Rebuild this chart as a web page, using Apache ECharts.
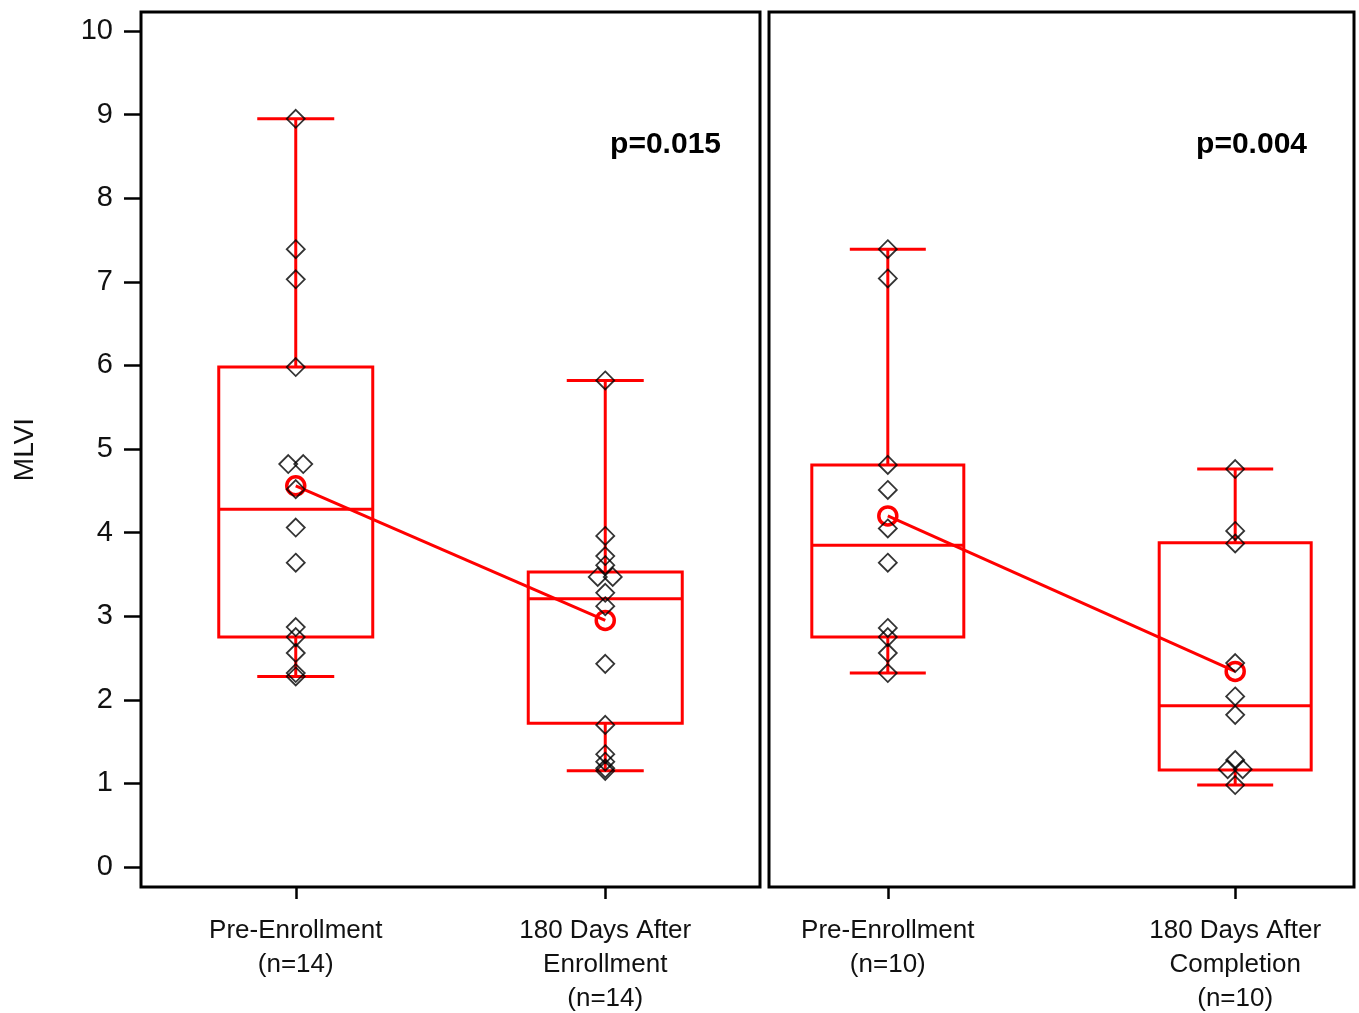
<!DOCTYPE html>
<html>
<head>
<meta charset="utf-8">
<script src="https://cdn.jsdelivr.net/npm/echarts@6/dist/echarts.min.js"></script>
<style>
  html, body { margin: 0; padding: 0; background: #fff; }
  #main { width: 1359px; height: 1013px; }
</style>
</head>
<body>
<div id="main"></div>
<script>
// tick labels
const yTicks = [0, 1, 2, 3, 4, 5, 6, 7, 8, 9, 10];
const leftLabels = ['Pre-Enrollment\n(n=14)', '180 Days After\nEnrollment\n(n=14)'];
const rightLabels = ['Pre-Enrollment\n(n=10)', '180 Days After\nCompletion\n(n=10)'];
const pValues = ['p=0.015', 'p=0.004'];

// individual MLVI values
const preEnrollA = [8.95, 7.39, 7.03, 5.98, 4.82, 4.82, 4.52, 4.06, 3.64, 2.87, 2.75, 2.56, 2.32, 2.28];
const after180Enroll = [5.82, 3.96, 3.72, 3.61, 3.47, 3.47, 3.28, 3.12, 2.43, 1.70, 1.35, 1.26, 1.18, 1.15];
const preEnrollB = [7.39, 7.04, 4.81, 4.51, 4.05, 3.64, 2.86, 2.75, 2.56, 2.32];
const after180Completion = [4.76, 4.02, 3.87, 2.44, 2.04, 1.82, 1.28, 1.17, 1.17, 0.98];

// box stats: [min, q1, median, q3, max]
const boxLeft = [[2.28, 2.75, 4.28, 5.98, 8.95], [1.15, 1.72, 3.21, 3.53, 5.82]];
const boxRight = [[2.32, 2.75, 3.85, 4.81, 7.39], [0.98, 1.16, 1.93, 3.88, 4.76]];

// means
const meanLeft = [4.56, 2.95];
const meanRight = [4.20, 2.34];

const RED = '#ff0000';
const FONT = '"Liberation Sans", Arial, sans-serif';

// side-by-side offset for equal values
function scatterData(idx, values) {
  const counts = {};
  values.forEach(v => { counts[v] = (counts[v] || 0) + 1; });
  const seen = {};
  return values.map(v => {
    const n = counts[v];
    const k = seen[v] = (seen[v] || 0) + 1;
    const off = n > 1 ? (k - 1 - (n - 1) / 2) * 15 : 0;
    return { value: [idx, v], symbolOffset: [off, 0] };
  });
}

function boxRender(halfW) {
  return function (params, api) {
    const x = api.value(0);
    const cx = api.coord([x, 0])[0];
    const y = v => api.coord([x, api.value(v)])[1];
    const yMin = y(1), yQ1 = y(2), yMed = y(3), yQ3 = y(4), yMax = y(5);
    const cap = halfW / 2;
    const st = { stroke: RED, lineWidth: 3, fill: null };
    return {
      type: 'group',
      children: [
        { type: 'rect', shape: { x: cx - halfW, y: yQ3, width: halfW * 2, height: yQ1 - yQ3 }, style: st },
        { type: 'line', shape: { x1: cx - halfW, y1: yMed, x2: cx + halfW, y2: yMed }, style: st },
        { type: 'line', shape: { x1: cx, y1: yQ3, x2: cx, y2: yMax }, style: st },
        { type: 'line', shape: { x1: cx, y1: yQ1, x2: cx, y2: yMin }, style: st },
        { type: 'line', shape: { x1: cx - cap, y1: yMax, x2: cx + cap, y2: yMax }, style: st },
        { type: 'line', shape: { x1: cx - cap, y1: yMin, x2: cx + cap, y2: yMin }, style: st }
      ]
    };
  };
}

function xAxis(gridIndex, pad, labels) {
  return {
    type: 'value',
    gridIndex: gridIndex,
    min: -pad,
    max: 1 + pad,
    axisLine: { show: false, onZero: false },
    splitLine: { show: false },
    axisTick: {
      customValues: [0, 1],
      length: 12,
      lineStyle: { color: '#000', width: 2.5 }
    },
    axisLabel: {
      customValues: [0, 1],
      formatter: v => labels[Math.round(v)],
      margin: 27,
      fontFamily: FONT,
      fontSize: 26,
      lineHeight: 34,
      color: '#111'
    }
  };
}

function yAxis(gridIndex, show) {
  return {
    type: 'value',
    gridIndex: gridIndex,
    min: -0.239,
    max: 10.227,
    show: show,
    name: show ? 'MLVI' : '',
    nameLocation: 'middle',
    nameGap: 102,
    nameRotate: 90,
    nameTextStyle: { fontFamily: FONT, fontSize: 28, color: '#111' },
    axisLine: { show: false, onZero: false },
    splitLine: { show: false },
    axisTick: {
      customValues: yTicks,
      length: 17,
      lineStyle: { color: '#000', width: 2.5 }
    },
    axisLabel: {
      customValues: yTicks,
      margin: 28,
      fontFamily: FONT,
      fontSize: 29,
      color: '#111'
    }
  };
}

function panelSeries(gi, box, mean, pts, halfW) {
  return [
    {
      type: 'custom',
      xAxisIndex: gi, yAxisIndex: gi,
      renderItem: boxRender(halfW),
      data: box.map((b, i) => [i].concat(b)),
      z: 2
    },
    {
      type: 'line',
      xAxisIndex: gi, yAxisIndex: gi,
      data: mean.map((m, i) => [i, m]),
      symbol: 'circle',
      symbolSize: 18,
      lineStyle: { color: RED, width: 3 },
      itemStyle: { color: 'rgba(0,0,0,0)', borderColor: RED, borderWidth: 3.5 },
      z: 3
    },
    {
      type: 'scatter',
      xAxisIndex: gi, yAxisIndex: gi,
      data: scatterData(0, pts[0]).concat(scatterData(1, pts[1])),
      symbol: 'diamond',
      symbolSize: 18,
      itemStyle: { color: 'rgba(0,0,0,0)', borderColor: '#000', borderWidth: 1.8 },
      z: 4
    }
  ];
}

const chart = echarts.init(document.getElementById('main'));
chart.setOption({
  backgroundColor: '#fff',
  animation: false,
  grid: [
    { left: 141, top: 12, width: 619, height: 875, show: true, borderColor: '#000', borderWidth: 3, backgroundColor: 'transparent', outerBoundsMode: 'none', containLabel: false },
    { left: 769, top: 12, width: 585, height: 875, show: true, borderColor: '#000', borderWidth: 3, backgroundColor: 'transparent', outerBoundsMode: 'none', containLabel: false }
  ],
  xAxis: [xAxis(0, 0.5, leftLabels), xAxis(1, 0.342, rightLabels)],
  yAxis: [yAxis(0, true), yAxis(1, false)],
  graphic: [
    { type: 'text', right: 1359 - 721, top: 130, style: { text: pValues[0], font: 'bold 30px ' + FONT, fill: '#000' } },
    { type: 'text', right: 1359 - 1307, top: 130, style: { text: pValues[1], font: 'bold 30px ' + FONT, fill: '#000' } }
  ],
  series: panelSeries(0, boxLeft, meanLeft, [preEnrollA, after180Enroll], 77)
    .concat(panelSeries(1, boxRight, meanRight, [preEnrollB, after180Completion], 76))
});
</script>
</body>
</html>
